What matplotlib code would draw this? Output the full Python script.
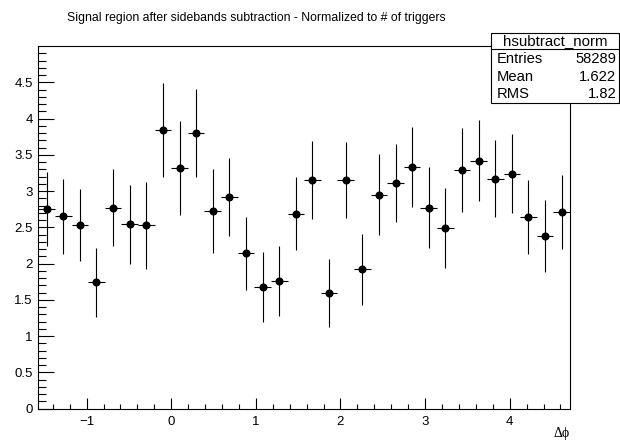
import numpy as np
import matplotlib
matplotlib.use("Agg")
import matplotlib.pyplot as plt
from matplotlib.patches import Rectangle
from matplotlib.lines import Line2D

plt.rcParams["font.family"] = ["Liberation Sans", "DejaVu Sans"]

# histogram hsubtract_norm: 32 bins in [-pi/2, 3pi/2]
n_bins = 32
edges = np.linspace(-np.pi / 2, 3 * np.pi / 2, n_bins + 1)
counts = [2.75, 2.65, 2.53, 1.74, 2.77, 2.54, 2.53, 3.84,
          3.32, 3.80, 2.73, 2.92, 2.14, 1.68, 1.76, 2.69,
          3.15, 1.59, 3.15, 1.92, 2.95, 3.11, 3.33, 2.77,
          2.49, 3.29, 3.42, 3.17, 3.24, 2.64, 2.38, 2.71]
errors = [0.51, 0.52, 0.50, 0.48, 0.53, 0.54, 0.60, 0.65,
          0.65, 0.61, 0.58, 0.54, 0.50, 0.48, 0.48, 0.50,
          0.54, 0.47, 0.52, 0.49, 0.56, 0.54, 0.55, 0.56,
          0.55, 0.58, 0.56, 0.53, 0.54, 0.51, 0.50, 0.51]
stats = [("Entries", "58289"), ("Mean", "1.622"), ("RMS", "1.82")]
title = "Signal region after sidebands subtraction - Normalized to # of triggers"

W, H = 620, 442
fig = plt.figure(figsize=(W / 100, H / 100), dpi=100)
ax = fig.add_axes([38.3 / W, 1 - 408.7 / H, (570 - 38.3) / W, (408.7 - 46) / H])

centers = 0.5 * (edges[:-1] + edges[1:])
half_w = 0.5 * np.diff(edges)
ax.errorbar(centers, counts, yerr=errors, xerr=half_w, fmt="o", color="black",
            ms=4.8, elinewidth=0.8, capsize=0)

ax.set_xlim(edges[0], edges[-1])
ax.set_ylim(0, 5.0)
ax.set_xticks(np.arange(-1, 5, 1))
ax.set_xticks(np.arange(-1.4, 4.71, 0.2), minor=True)
ax.set_yticks(np.arange(0, 4.51, 0.5))
ax.set_yticks(np.arange(0, 5.0, 0.1), minor=True)
ax.set_xticklabels(["\u22121", "0", "1", "2", "3", "4"])
ax.set_yticklabels(["0", "0.5", "1", "1.5", "2", "2.5", "3", "3.5", "4", "4.5"])

ax.tick_params(axis="both", which="both", direction="in", top=False, right=False,
               labelsize=9.5, width=0.8, color="black")
ax.tick_params(axis="x", which="major", length=8.1, pad=5)
ax.tick_params(axis="x", which="minor", length=3.8)
ax.tick_params(axis="y", which="major", length=11.5, pad=4)
ax.tick_params(axis="y", which="minor", length=5.5)
for sp in ax.spines.values():
    sp.set_linewidth(0.8)

ax.set_xlabel("\u0394\u03d5", loc="right", fontsize=10, family=["Liberation Serif", "DejaVu Serif"])
ax.xaxis.set_label_coords(1.0, -(433 - 408.7) / (408.7 - 46))
ax.xaxis.label.set_va("center")

fig.text(256 / W, 1 - 18 / H, title, ha="center", va="center", fontsize=8.8)

# stats box
bx0, bx1, by0, by1, bsep = 491, 619, 33, 103, 49.3
fig.patches.append(Rectangle((bx0 / W, 1 - by1 / H), (bx1 - bx0) / W, (by1 - by0) / H,
                             transform=fig.transFigure, facecolor="white",
                             edgecolor="black", lw=0.8, zorder=5))
fig.lines.append(Line2D([bx0 / W, bx1 / W], [1 - bsep / H, 1 - bsep / H],
                        transform=fig.transFigure, color="black", lw=0.8, zorder=6))
fig.text((bx0 + bx1) / 2 / W, 1 - 41.5 / H, "hsubtract_norm", ha="center", va="center",
         fontsize=10.8, zorder=7)
for (name, val), yy in zip(stats, [59, 77, 94.5]):
    fig.text(497 / W, 1 - yy / H, name, ha="left", va="center", fontsize=10.6, zorder=7)
    fig.text(616.5 / W, 1 - yy / H, val, ha="right", va="center", fontsize=10.6, zorder=7)

fig.savefig("out.png", dpi=100)
